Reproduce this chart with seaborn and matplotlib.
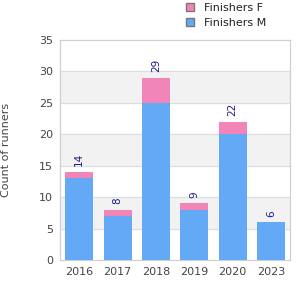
import numpy as np
import pandas as pd
import matplotlib
matplotlib.use("Agg")
import matplotlib.pyplot as plt
import seaborn as sns
from matplotlib.patches import Patch

years = ["2016", "2017", "2018", "2019", "2020", "2023"]
finishers_m = [13, 7, 25, 8, 20, 6]
finishers_f = [1, 1, 4, 1, 2, 0]
totals = [m + f for m, f in zip(finishers_m, finishers_f)]

COLOR_M = "#63a9f5"
COLOR_F = "#f285b8"
TEXT = "#444444"

sns.set_style("white")
plt.rcParams['font.family'] = ['DejaVu Sans']

fig = plt.figure(figsize=(3, 3), dpi=100)
ax = fig.add_axes([0.2, 0.133, 0.767, 0.734])

df = pd.DataFrame({"year": years, "M": finishers_m, "F": finishers_f, "total": totals})

# alternating bands
for lo in range(5, 35, 10):
    ax.axhspan(lo, lo + 5, color="#f2f2f2", zorder=0)
for y in range(5, 35, 5):
    ax.axhline(y, color="#dddddd", lw=0.8, zorder=0.5)

sns.barplot(data=df, x="year", y="total", color=COLOR_F, width=0.73, ax=ax,
            saturation=1, linewidth=0, zorder=2)
sns.barplot(data=df, x="year", y="M", color=COLOR_M, width=0.73, ax=ax,
            saturation=1, linewidth=0, zorder=3)

for i, t in enumerate(totals):
    ax.annotate(str(t), (i, t), xytext=(0, 4), textcoords="offset points",
                rotation=90, ha="center", va="bottom", fontsize=7.5, color="#1a1a8c")

ax.set_ylim(0, 35)
ax.set_yticks(range(0, 36, 5))
ax.set_xlim(-0.5, len(years) - 0.5)
ax.set_xlabel("")
ax.set_ylabel("Count of runners", fontsize=8, color=TEXT, labelpad=20)
ax.tick_params(axis="both", labelsize=8, colors=TEXT, length=0, pad=5)
for s in ax.spines.values():
    s.set_color("#d0d0d0")
    s.set_linewidth(0.9)

handles = [Patch(facecolor=COLOR_F, edgecolor="#777777", label="Finishers F"),
           Patch(facecolor=COLOR_M, edgecolor="#777777", label="Finishers M")]
fig.legend(handles=handles, loc="upper left", bbox_to_anchor=(0.585, 1.025), frameon=False,
           fontsize=8, handlelength=0.8, handleheight=0.8, labelspacing=0.45,
           handletextpad=0.9, labelcolor="#222222")

fig.savefig("out.png", dpi=100)
